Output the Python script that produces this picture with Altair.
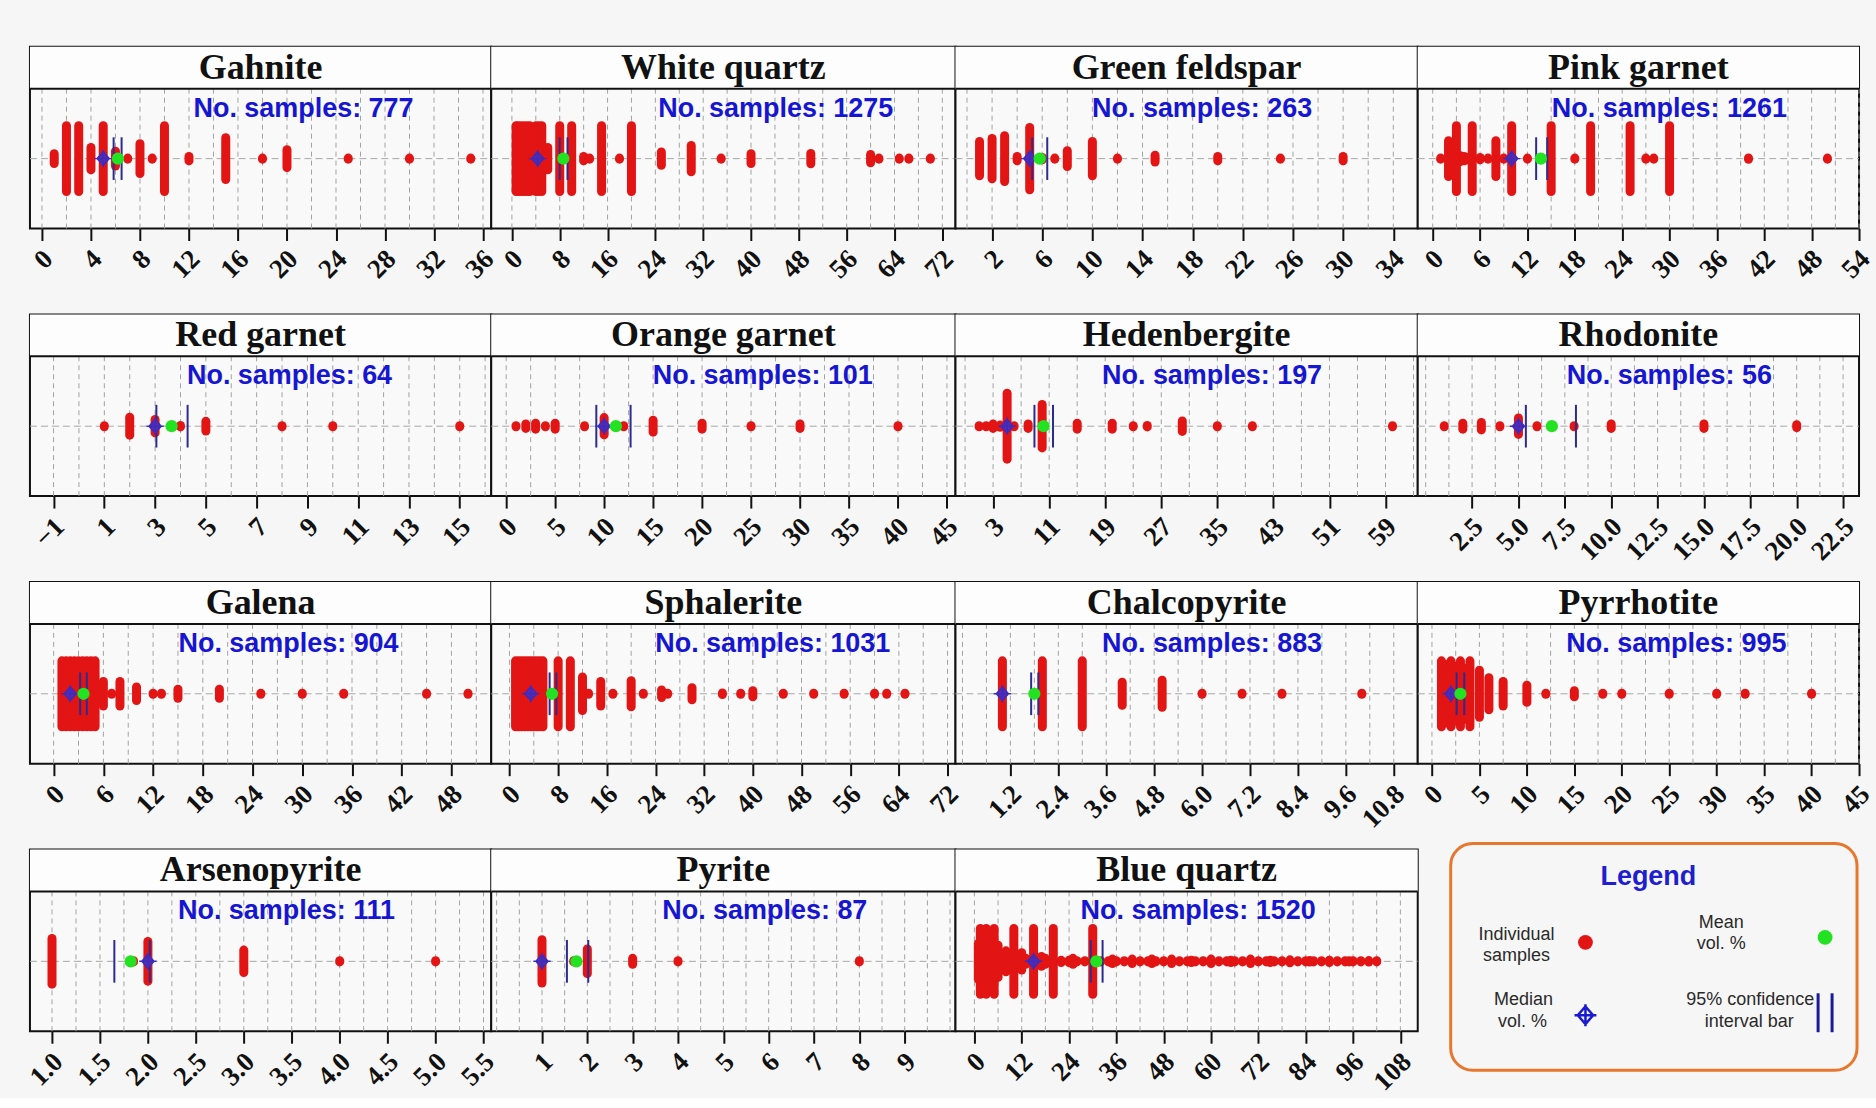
import math
import altair as alt
import pandas as pd

# ---------------- data ----------------
MINERALS = ["Gahnite", "White quartz", "Green feldspar", "Pink garnet",
            "Red garnet", "Orange garnet", "Hedenbergite", "Rhodonite",
            "Galena", "Sphalerite", "Chalcopyrite", "Pyrrhotite",
            "Arsenopyrite", "Pyrite", "Blue quartz"]
N_SAMPLES = [777, 1275, 263, 1261, 64, 101, 197, 56, 904, 1031, 883, 995, 111, 87, 1520]
MEDIANS = [5.0, 4.3, 5.0, 10.0, 3.0, 10.0, 5.0, 5.0, 2.0, 3.5, 1.0, 2.0, 2.0, 1.0, 15.0]
MEANS = [6.2, 8.6, 5.8, 13.7, 3.65, 11.2, 10.2, 6.8, 3.6, 7.0, 1.8, 3.0, 1.82, 1.76, 30.9]
CI_LOW = [5.85, 8.0, 5.2, 13.1, 3.05, 9.2, 8.9, 5.4, 3.2, 6.6, 1.72, 2.6, 1.65, 1.55, 29.5]
CI_HIGH = [6.5, 9.3, 6.4, 14.5, 4.28, 12.7, 11.55, 8.1, 4.0, 7.7, 1.9, 3.4, 2.02, 2.02, 32.5]

# stack positions (vol. %) and relative stack size (1 = tallest stack)
GAHNITE_V = [1, 2, 3, 4, 5, 6, 7, 8, 9, 10, 12, 15, 18, 20, 25, 30, 35]
GAHNITE_S = [0.25, 1, 1, 0.42, 1, 0.32, 0.12, 0.52, 0.12, 1, 0.18, 0.68, 0.12, 0.36, 0.12, 0.12, 0.12]
WHITE_QUARTZ_V = [0.7, 1, 1.5, 2, 2.5, 3, 3.5, 4, 4.5, 5, 6, 8, 10, 12, 13, 15, 18, 20, 25, 30, 35, 40, 50, 60, 61.4, 64.8, 66.4, 70]
WHITE_QUARTZ_S = [1, 1, 1, 1, 1, 1, 0.4, 1, 1, 1, 0.42, 1, 1, 0.18, 0.12, 1, 0.12, 1, 0.3, 0.47, 0.12, 0.25, 0.26, 0.23, 0.12, 0.12, 0.12, 0.12]
GREEN_FELDSPAR_V = [1, 2, 3, 4, 5, 6, 7, 8, 10, 12, 15, 20, 25, 30]
GREEN_FELDSPAR_S = [0.58, 0.66, 0.73, 0.18, 0.95, 0.15, 0.12, 0.33, 0.58, 0.1, 0.21, 0.18, 0.1, 0.18]
PINK_GARNET_V = [1, 2, 2.5, 3, 3.5, 4, 4.5, 5, 6, 7, 8, 9, 10, 12, 15, 18, 20, 25, 27, 28, 30, 40, 50]
PINK_GARNET_S = [0.12, 0.6, 0.45, 1, 0.2, 0.18, 0.15, 1, 0.15, 0.12, 0.6, 0.12, 1, 0.12, 1, 0.12, 1, 1, 0.1, 0.1, 1, 0.14, 0.12]
RED_GARNET_V = [1, 2, 3, 4, 5, 8, 10, 15]
RED_GARNET_S = [0.1, 0.36, 0.3, 0.14, 0.25, 0.1, 0.13, 0.1]
ORANGE_GARNET_V = [1, 2, 3, 4, 5, 8, 10, 12, 15, 20, 25, 30, 40]
ORANGE_GARNET_S = [0.1, 0.18, 0.2, 0.1, 0.2, 0.1, 0.35, 0.12, 0.28, 0.2, 0.1, 0.18, 0.1]
HEDENBERGITE_V = [1, 2, 3, 4, 5, 6, 8, 10, 15, 20, 23, 25, 30, 35, 40, 60]
HEDENBERGITE_S = [0.1, 0.12, 0.18, 0.15, 1, 0.1, 0.18, 0.7, 0.2, 0.2, 0.1, 0.14, 0.26, 0.1, 0.13, 0.1]
RHODONITE_V = [1, 2, 3, 4, 5, 6, 8, 10, 15, 20]
RHODONITE_S = [0.1, 0.2, 0.22, 0.1, 0.34, 0.1, 0.1, 0.18, 0.18, 0.16]
GALENA_V = [1, 1.5, 2, 2.5, 3, 3.5, 4, 4.5, 5, 6, 7, 8, 10, 12, 13, 15, 20, 25, 30, 35, 45, 50]
GALENA_S = [1, 1, 1, 1, 1, 1, 1, 1, 1, 0.45, 0.12, 0.45, 0.3, 0.13, 0.1, 0.24, 0.24, 0.12, 0.13, 0.1, 0.1, 0.12]
SPHALERITE_V = [1, 1.5, 2, 2.5, 3, 3.5, 4, 4.5, 5, 5.5, 8, 10, 12, 13, 15, 17, 20, 22, 25, 26, 30, 35, 38, 40, 45, 50, 55, 60, 62, 65]
SPHALERITE_S = [1, 1, 1, 1, 1, 1, 1, 1, 1, 1, 1, 1, 0.57, 0.1, 0.45, 0.1, 0.47, 0.1, 0.22, 0.1, 0.28, 0.14, 0.1, 0.2, 0.12, 0.12, 0.1, 0.12, 0.1, 0.1]
CHALCOPYRITE_V = [1, 2, 3, 4, 5, 6, 7, 8, 10]
CHALCOPYRITE_S = [1, 1, 1, 0.43, 0.48, 0.13, 0.1, 0.1, 0.1]
PYRRHOTITE_V = [1, 1.5, 2, 2.5, 3, 3.5, 4, 5, 6, 7.5, 10, 12, 15, 18, 20, 25, 30, 33, 40]
PYRRHOTITE_S = [1, 0.9, 1, 0.85, 1, 0.8, 1, 0.75, 0.55, 0.45, 0.35, 0.1, 0.2, 0.1, 0.1, 0.13, 0.1, 0.1, 0.1]
ARSENOPYRITE_V = [1.0, 1.85, 2.0, 3.0, 4.0, 5.0]
ARSENOPYRITE_S = [0.73, 0.1, 0.65, 0.42, 0.1, 0.1]
PYRITE_V = [1, 1.7, 2, 3, 4, 8]
PYRITE_S = [0.7, 0.1, 0.45, 0.2, 0.12, 0.1]
BLUE_QUARTZ_V = [1, 1.5, 2, 3, 4, 5, 6, 7, 8, 10, 12, 13, 15, 17, 18, 20, 22, 24, 25, 26, 28, 30,
                 32, 34, 35, 36, 38, 40, 42, 44, 45, 46, 48, 50, 52, 54, 55, 56, 58, 60, 62, 64, 65,
                 66, 68, 70, 72, 74, 75, 76, 78, 80, 82, 84, 85, 86, 88, 90, 92, 94, 95, 96, 98, 100, 102]
BLUE_QUARTZ_S = [0.6, 1, 0.8, 1, 0.7, 1, 0.55, 0.3, 0.4, 1, 0.35, 0.2, 1, 0.25, 0.2, 1, 0.15, 0.15, 0.2, 0.12, 0.12, 1,
                 0.12, 0.12, 0.18, 0.12, 0.12, 0.18, 0.12, 0.12, 0.18, 0.12, 0.12, 0.18, 0.12, 0.12, 0.15, 0.12, 0.12, 0.18, 0.12, 0.12, 0.15,
                 0.12, 0.12, 0.18, 0.12, 0.12, 0.15, 0.12, 0.12, 0.16, 0.12, 0.12, 0.14, 0.12, 0.12, 0.15, 0.12, 0.12, 0.13, 0.12, 0.12, 0.14, 0.12]

PANEL_V = [GAHNITE_V, WHITE_QUARTZ_V, GREEN_FELDSPAR_V, PINK_GARNET_V, RED_GARNET_V,
           ORANGE_GARNET_V, HEDENBERGITE_V, RHODONITE_V, GALENA_V, SPHALERITE_V,
           CHALCOPYRITE_V, PYRRHOTITE_V, ARSENOPYRITE_V, PYRITE_V, BLUE_QUARTZ_V]
PANEL_S = [GAHNITE_S, WHITE_QUARTZ_S, GREEN_FELDSPAR_S, PINK_GARNET_S, RED_GARNET_S,
           ORANGE_GARNET_S, HEDENBERGITE_S, RHODONITE_S, GALENA_S, SPHALERITE_S,
           CHALCOPYRITE_S, PYRRHOTITE_S, ARSENOPYRITE_S, PYRITE_S, BLUE_QUARTZ_S]

# tick labels of each panel
TICKS = [
    [0, 4, 8, 12, 16, 20, 24, 28, 32, 36],
    [0, 8, 16, 24, 32, 40, 48, 56, 64, 72],
    [2, 6, 10, 14, 18, 22, 26, 30, 34],
    [0, 6, 12, 18, 24, 30, 36, 42, 48, 54],
    [-1, 1, 3, 5, 7, 9, 11, 13, 15],
    [0, 5, 10, 15, 20, 25, 30, 35, 40, 45],
    [3, 11, 19, 27, 35, 43, 51, 59],
    [2.5, 5.0, 7.5, 10.0, 12.5, 15.0, 17.5, 20.0, 22.5],
    [0, 6, 12, 18, 24, 30, 36, 42, 48],
    [0, 8, 16, 24, 32, 40, 48, 56, 64, 72],
    [1.2, 2.4, 3.6, 4.8, 6.0, 7.2, 8.4, 9.6, 10.8],
    [0, 5, 10, 15, 20, 25, 30, 35, 40, 45],
    [1.0, 1.5, 2.0, 2.5, 3.0, 3.5, 4.0, 4.5, 5.0, 5.5],
    [1, 2, 3, 4, 5, 6, 7, 8, 9],
    [0, 12, 24, 36, 48, 60, 72, 84, 96, 108],
]
FORMATS = ["d", "d", "d", "d", "d", "d", "d", ".1f", "d", "d", ".1f", "d", ".1f", "d", "d"]

# ---------------- layout ----------------
DOMAINS = [
    [-0.98, 36.67], [-3.46, 74.2], [-0.92, 35.95], [-1.9, 54.0],
    [-1.93, 16.24], [-1.53, 45.87], [-2.37, 63.6], [-0.43, 23.36],
    [-2.86, 52.8], [-3.0, 73.3], [-0.175, 11.4], [-1.5, 45.0],
    [0.77, 5.58], [-0.12, 10.12], [-4.8, 112.4],
]
TEXT_X = [274, 285, 247, 252, 260, 272, 257, 252, 259, 282, 257, 259, 257, 274, 243]
W_COLS = [462, 465, 463, 442]
HEAD = 42
PLOT = 140
H = HEAD + PLOT
UNIT = 37.5
CENTER = HEAD + PLOT / 2
Y_DOMAIN = [-(H - CENTER) / UNIT, CENTER / UNIT]
DOT_R = 4.5 / UNIT

RED = "#e31414"
GREEN = "#22e222"
SAMPLE_BLUE = "#1616d2"
CI_BLUE = "#2c2c90"
MEDIAN_PATH = "M0,-0.8L0.7,0L0,0.8L-0.7,0Z M0,-1L0,1 M-1,0L1,0"

ONE = pd.DataFrame({"a": [0]})


def panel(k, width):
    xs = alt.Scale(domain=DOMAINS[k], nice=False, zero=False)
    ys = alt.Scale(domain=Y_DOMAIN, nice=False, zero=False)
    ticks = TICKS[k]
    step = (ticks[1] - ticks[0]) / 2
    lo, hi = DOMAINS[k]
    j = math.ceil((lo - ticks[0]) / step - 1e-9)
    grid = []
    while ticks[0] + j * step <= hi + 1e-9:
        grid.append(round(ticks[0] + j * step, 6))
        j += 1
    gdf = pd.DataFrame({"v": grid})

    axis = alt.Axis(values=ticks, format=FORMATS[k], title=None, grid=False, domain=False,
                    ticks=True, tickSize=12, tickWidth=2, tickColor="#111111",
                    labelAngle=315, labelAlign="right", labelBaseline="top",
                    labelFont="Liberation Serif", labelFontWeight="bold", labelFontSize=27,
                    labelColor="#111111", labelPadding=5, labelOffset=-3,
                    labelFlush=False, labelOverlap=False)

    def X():
        return alt.X("v:Q", scale=xs, axis=axis)

    header = alt.Chart(ONE).mark_rect(fill="#fdfdfd").encode(
        x=alt.value(0), x2=alt.value(width), y=alt.value(0), y2=alt.value(HEAD))
    gridl = alt.Chart(gdf).mark_rule(color="#a2a2a2", strokeWidth=1, strokeDash=[5, 4]).encode(
        x=X(), y=alt.value(HEAD), y2=alt.value(H))
    center = alt.Chart(ONE).mark_rule(color="#a8a8a8", strokeWidth=1, strokeDash=[7, 4]).encode(
        x=alt.value(0), x2=alt.value(width), y=alt.value(CENTER))
    sep = alt.Chart(ONE).mark_rule(color="#111111", strokeWidth=2).encode(
        x=alt.value(0), x2=alt.value(width), y=alt.value(HEAD))
    title = alt.Chart(ONE).mark_text(font="Liberation Serif", fontWeight="bold", fontSize=36,
                                     color="#111111", align="center", baseline="alphabetic").encode(
        x=alt.value(width / 2), y=alt.value(32), text=alt.value(MINERALS[k]))

    rows = []
    for v, s in zip(PANEL_V[k], PANEL_S[k]):
        half = max(s - DOT_R, 0.015)
        rows.append({"v": v, "lo": -half, "hi": half})
    sdf = pd.DataFrame(rows)
    stacks = alt.Chart(sdf).mark_rule(color=RED, strokeWidth=9, strokeCap="round").encode(
        x=X(), y=alt.Y("lo:Q", scale=ys, axis=None), y2="hi:Q")

    cdf = pd.DataFrame({"v": [CI_LOW[k], CI_HIGH[k]], "lo": [-0.57, -0.57], "hi": [0.57, 0.57]})
    ci = alt.Chart(cdf).mark_rule(color=CI_BLUE, strokeWidth=2).encode(
        x=X(), y=alt.Y("lo:Q", scale=ys, axis=None), y2="hi:Q")

    mdf = pd.DataFrame({"v": [MEDIANS[k]], "lo": [0.0]})
    median = alt.Chart(mdf).mark_point(shape=MEDIAN_PATH, size=300, filled=True, fill="#5b2aa8",
                                       stroke="#3b2cc0", strokeWidth=1.5, opacity=1).encode(
        x=X(), y=alt.Y("lo:Q", scale=ys, axis=None))

    adf = pd.DataFrame({"v": [MEANS[k]], "lo": [0.0]})
    mean = alt.Chart(adf).mark_point(shape="circle", size=150, filled=True, color=GREEN,
                                     opacity=1).encode(
        x=X(), y=alt.Y("lo:Q", scale=ys, axis=None))

    txt = alt.Chart(ONE).mark_text(font="Liberation Sans", fontWeight="bold", fontSize=27,
                                   color=SAMPLE_BLUE, align="center", baseline="alphabetic").encode(
        x=alt.value(TEXT_X[k]), y=alt.value(70), text=alt.value(f"No. samples: {N_SAMPLES[k]}"))

    return alt.layer(header, gridl, center, sep, title, stacks, ci, median, mean, txt).properties(
        width=width, height=H)


LEGEND_LABELS = ["Legend", "Individual", "samples", "Mean", "vol. %", "Median", "vol. %",
                 "95% confidence", "interval bar"]


def legend(width):
    box = alt.Chart(ONE).mark_rect(cornerRadius=22, stroke="#e8772e", strokeWidth=3,
                                   fill="transparent").encode(
        x=alt.value(33), x2=alt.value(440), y=alt.value(-6), y2=alt.value(221))
    tdf = pd.DataFrame({
        "t": LEGEND_LABELS,
        "x": [231, 99, 99, 304, 304, 106, 105, 333, 332],
        "y": [28, 86, 107, 74, 95, 151, 173, 151, 173],
    })
    title = alt.Chart(tdf.iloc[:1]).mark_text(
        font="'Liberation Sans Narrow', 'Liberation Sans', sans-serif", fontWeight="bold",
        fontSize=27, color="#1e1ed0", align="center", baseline="middle").encode(
        x=alt.X("x:Q", scale=None, axis=None), y=alt.Y("y:Q", scale=None, axis=None), text="t:N")
    labels = alt.Chart(tdf.iloc[1:]).mark_text(
        font="'Liberation Sans Narrow', 'Liberation Sans', sans-serif",
        fontSize=18, color="#2a2a2a", align="center", baseline="middle").encode(
        x=alt.X("x:Q", scale=None, axis=None), y=alt.Y("y:Q", scale=None, axis=None), text="t:N")
    red = alt.Chart(ONE).mark_point(shape="circle", size=220, filled=True, color=RED, opacity=1).encode(
        x=alt.value(168), y=alt.value(93))
    grn = alt.Chart(ONE).mark_point(shape="circle", size=220, filled=True, color=GREEN, opacity=1).encode(
        x=alt.value(408), y=alt.value(88))
    med = alt.Chart(ONE).mark_point(shape=MEDIAN_PATH, size=480, filled=False, stroke="#1a1ad0",
                                    strokeWidth=2.5, opacity=1).encode(
        x=alt.value(168), y=alt.value(166))
    bdf = pd.DataFrame({"x": [401, 415]})
    bars = alt.Chart(bdf).mark_rule(color="#1a1a9a", strokeWidth=3).encode(
        x=alt.X("x:Q", scale=None, axis=None), y=alt.value(144), y2=alt.value(183))
    return alt.layer(box, title, labels, red, grn, med, bars).properties(
        width=width, height=H,
        view=alt.ViewBackground(stroke="transparent", fill="transparent"))


cells = []
for k in range(16):
    c = k % 4
    cells.append(panel(k, W_COLS[c]) if k < 15 else legend(W_COLS[c]))

chart = alt.concat(*cells, columns=4, spacing=alt.RowColnumber(row=86, column=0),
                   bounds="flush").properties(
    background="#f6f6f6",
    padding={"left": 23, "top": 45, "right": 0, "bottom": 0},
).configure_view(stroke="#111111", strokeWidth=2, fill="#f9f9f9")

chart.save("out.html", embed_options={"renderer": "svg", "actions": False})
